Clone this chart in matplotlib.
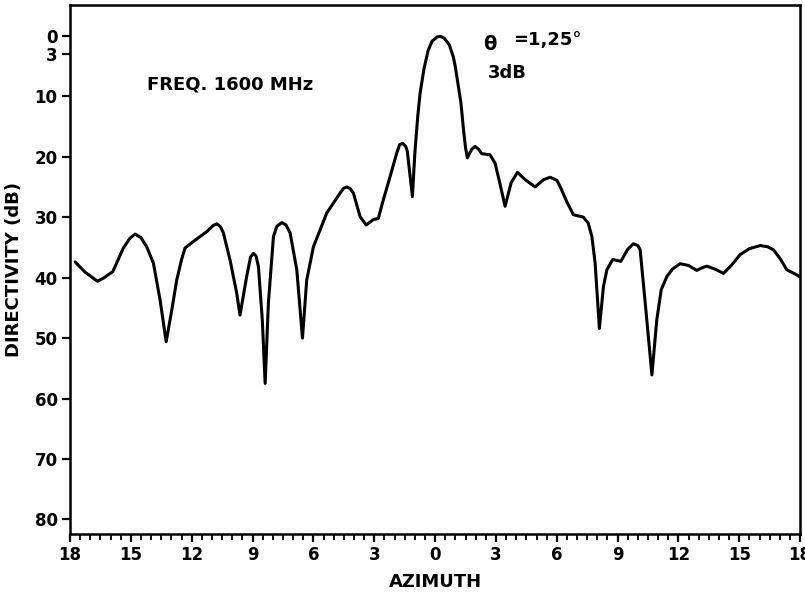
import numpy as np
import matplotlib.pyplot as plt
from matplotlib.ticker import MultipleLocator

# traced pattern: azimuth (deg) vs directivity (dB below peak)
az = [-17.75, -17.26, -16.65, -16.36, -15.89, -15.60, -15.37, -15.05, -14.79, -14.50,
      -14.22, -13.89, -13.56, -13.26, -12.98, -12.74, -12.50, -12.33, -11.83, -11.26,
      -10.95, -10.76, -10.58, -10.44, -10.11, -9.78, -9.62, -9.29, -9.10, -8.96,
      -8.83, -8.71, -8.52, -8.38, -8.22, -7.97, -7.80, -7.56, -7.35, -7.15,
      -6.82, -6.54, -6.33, -6.00, -5.34, -4.68, -4.50, -4.35, -4.18, -4.03,
      -3.70, -3.40, -3.04, -2.80, -2.55, -2.22, -1.90, -1.75, -1.60, -1.45,
      -1.37, -1.12, -1.00, -0.86, -0.74, -0.55, -0.35, -0.15, 0.10, 0.25,
      0.45, 0.70, 0.90, 1.00, 1.15, 1.27, 1.40, 1.50, 1.59, 1.80,
      1.97, 2.15, 2.30, 2.71, 2.96, 3.20, 3.45, 3.75, 4.06, 4.44,
      4.93, 5.35, 5.67, 6.00, 6.16, 6.50, 6.82, 7.31, 7.55, 7.73,
      7.89, 8.10, 8.30, 8.47, 8.76, 9.16, 9.50, 9.78, 10.00, 10.11,
      10.36, 10.69, 10.93, 11.15, 11.43, 11.70, 12.08, 12.50, 12.90, 13.15,
      13.40, 13.80, 14.22, 14.60, 15.04, 15.50, 16.03, 16.40, 16.68, 17.00,
      17.34, 17.75, 18.00]
db = [37.4, 39.1, 40.6, 40.1, 39.0, 36.8, 35.1, 33.5, 32.8, 33.4,
      34.9, 37.6, 43.7, 50.6, 45.3, 40.4, 37.0, 35.1, 33.8, 32.4,
      31.4, 31.1, 31.6, 32.6, 37.1, 42.6, 46.2, 39.8, 36.6, 36.0,
      36.4, 38.2, 47.0, 57.5, 44.2, 33.2, 31.5, 30.9, 31.3, 32.6,
      38.7, 50.0, 40.4, 34.9, 29.3, 26.0, 25.2, 25.0, 25.3, 26.0,
      29.9, 31.3, 30.4, 30.2, 27.1, 23.3, 19.5, 18.0, 17.8, 18.3,
      19.1, 26.6, 19.5, 13.5, 9.5, 5.5, 2.5, 0.9, 0.2, 0.1,
      0.4, 1.5, 3.5, 5.2, 8.4, 11.0, 15.5, 18.5, 20.2, 18.8,
      18.3, 18.8, 19.5, 19.7, 21.1, 24.5, 28.2, 24.3, 22.6, 23.8,
      25.0, 23.8, 23.4, 23.9, 24.9, 27.5, 29.6, 30.0, 31.0, 33.2,
      37.6, 48.4, 41.5, 38.7, 37.0, 37.3, 35.3, 34.4, 34.7, 35.4,
      44.2, 56.1, 47.0, 42.0, 39.8, 38.6, 37.7, 38.0, 38.8, 38.4,
      38.1, 38.6, 39.3, 38.0, 36.2, 35.2, 34.7, 34.9, 35.4, 36.8,
      38.7, 39.4, 39.9]

xticks = np.arange(-18, 19, 3)
xlabels = [str(abs(v)) for v in xticks]
yticks = [0, 3, 10, 20, 30, 40, 50, 60, 70, 80]

fig = plt.figure(figsize=(8.05, 5.92), dpi=100)
ax = fig.add_axes([0.087, 0.098, 0.907, 0.894])

ax.plot(az, db, color='black', lw=2.2, solid_joinstyle='round', solid_capstyle='round')

ax.set_xlim(-18, 18)
ax.set_ylim(82.4, -5.13)
ax.set_xticks(xticks)
ax.set_xticklabels(xlabels)
ax.xaxis.set_minor_locator(MultipleLocator(0.5))
ax.set_yticks(yticks)
ax.set_yticklabels([str(v) for v in yticks])

for s in ax.spines.values():
    s.set_linewidth(1.8)
ax.tick_params(axis='both', which='major', direction='out', length=6, width=1.6,
               labelsize=12, pad=3)
ax.tick_params(axis='x', which='minor', direction='out', length=4, width=1.3)
for lab in ax.get_xticklabels() + ax.get_yticklabels():
    lab.set_fontweight('bold')

ax.set_xlabel('AZIMUTH', fontsize=13, fontweight='bold', labelpad=6)
ax.set_ylabel('DIRECTIVITY (dB)', fontsize=13, fontweight='bold', labelpad=8)

# annotations (data coords)
ax.text(-14.2, 8.1, 'FREQ. 1600 MHz', fontsize=13, fontweight='bold', va='center')
ax.text(2.35, 1.5, 'θ', fontsize=14, fontweight='bold', va='center')
ax.text(3.85, 0.7, '=1,25°', fontsize=13, fontweight='bold', va='center')
ax.text(2.6, 6.2, '3dB', fontsize=13, fontweight='bold', va='center')

fig.savefig('out.png', dpi=100)
